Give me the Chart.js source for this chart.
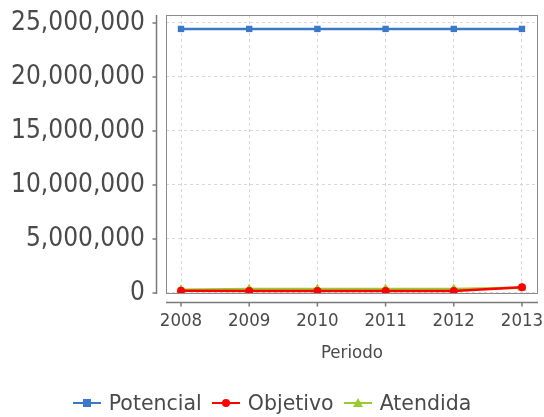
<!DOCTYPE html>
<html>
<head>
<meta charset="utf-8">
<script src="https://cdn.jsdelivr.net/npm/chart.js@4.4.0/dist/chart.umd.min.js"></script>
<style>
    html, body { margin: 0; padding: 0; background: #fff; }
    #wrap { position: relative; width: 544px; height: 417px; }
    #legend {
        position: absolute; left: 0; top: 389px; width: 544px; height: 28px;
        display: flex; justify-content: center; align-items: center;
        font-family: 'DejaVu Sans', sans-serif;
        font-size: 20.5px; color: #4a4a4a;
    }
    .item { display: flex; align-items: center; margin: 0 5px; }
    .item canvas { margin-right: 8px; }
</style>
</head>
<body>
<div id="wrap">
    <canvas id="chart" width="544" height="417"></canvas>
    <div id="legend"></div>
</div>
<script>
// Datos
const periodos = [2008, 2009, 2010, 2011, 2012, 2013];
const potencial = [24450000, 24450000, 24450000, 24450000, 24450000, 24450000];
const objetivo = [200000, 190000, 190000, 190000, 190000, 530000];
const atendida = [300000, 370000, 370000, 370000, 370000, 490000];
const yTicks = [0, 5000000, 10000000, 15000000, 20000000, 25000000];

const series = [
    { label: 'Potencial', data: potencial, color: '#3a78c9', style: 'rect', radius: 4.5 },
    { label: 'Objetivo', data: objetivo, color: '#ff0000', style: 'circle', radius: 4 },
    { label: 'Atendida', data: atendida, color: '#99cc33', style: 'triangle', radius: 5.5 }
];

const fontFamily = "'DejaVu Sans Condensed', 'DejaVu Sans', sans-serif";

// Ejes dibujados aparte del area del grafico (estilo JFreeChart)
const axisLines = {
    id: 'axisLines',
    afterDraw(chart) {
        const { ctx, chartArea } = chart;
        const { left, right, top, bottom } = chartArea;
        ctx.save();
        ctx.strokeStyle = '#8c8c8c';
        ctx.lineWidth = 1;
        ctx.strokeRect(left + 0.5, top + 0.5, right - left - 1, bottom - top - 1);

        ctx.strokeStyle = '#7a7a7a';
        ctx.lineWidth = 1.5;
        const ax = left - 9.5;
        ctx.beginPath();
        ctx.moveTo(ax, top);
        ctx.lineTo(ax, bottom);
        yTicks.forEach(v => {
            const y = chart.scales.y.getPixelForValue(v);
            ctx.moveTo(ax - 4, y);
            ctx.lineTo(ax, y);
        });
        const ay = bottom + 8.5;
        ctx.moveTo(left, ay);
        ctx.lineTo(right, ay);
        periodos.forEach(p => {
            const x = chart.scales.x.getPixelForValue(p);
            ctx.moveTo(x, ay);
            ctx.lineTo(x, ay + 4);
        });
        ctx.stroke();
        ctx.restore();
    }
};

new Chart(document.getElementById('chart'), {
    type: 'line',
    data: {
        datasets: series.map(s => ({
            label: s.label,
            data: periodos.map((p, i) => ({ x: p, y: s.data[i] })),
            borderColor: s.color,
            backgroundColor: s.color,
            borderWidth: 2.5,
            pointStyle: s.style,
            pointRadius: s.radius,
            pointHoverRadius: s.radius,
            pointBorderWidth: 0,
            tension: 0
        }))
    },
    options: {
        responsive: false,
        animation: false,
        layout: { padding: { top: 15, right: 6, left: 0, bottom: 53 } },
        plugins: {
            legend: { display: false },
            tooltip: { enabled: false }
        },
        scales: {
            x: {
                type: 'linear',
                min: 2007.78,
                max: 2013.235,
                afterBuildTicks: scale => { scale.ticks = periodos.map(v => ({ value: v })); },
                afterFit: scale => {
                    scale.height = 70;
                    scale.paddingLeft = 0;
                    scale.paddingRight = 0;
                },
                grid: { color: '#d8d8d8', drawTicks: false },
                border: { display: false, dash: [3, 3] },
                ticks: {
                    padding: 16,
                    color: '#4a4a4a',
                    font: { family: fontFamily, size: 18.5 },
                    callback: v => String(v),
                    maxRotation: 0
                },
                title: {
                    display: true,
                    text: 'Periodo',
                    color: '#4a4a4a',
                    font: { family: fontFamily, size: 18.5 },
                    padding: { top: 0, bottom: 0 }
                }
            },
            y: {
                min: -95000,
                max: 25740000,
                afterBuildTicks: scale => { scale.ticks = yTicks.map(v => ({ value: v })); },
                afterFit: scale => {
                    scale.width = 166;
                    scale.paddingTop = 0;
                    scale.paddingBottom = 0;
                },
                grid: { color: '#d8d8d8', drawTicks: false },
                border: { display: false, dash: [3, 3] },
                ticks: {
                    padding: 21,
                    color: '#4a4a4a',
                    font: { family: fontFamily, size: 26 },
                    callback: v => v.toLocaleString('en-US')
                }
            }
        }
    },
    plugins: [axisLines]
});

// Leyenda en HTML con linea + marcador
const legend = document.getElementById('legend');
series.forEach(s => {
    const item = document.createElement('div');
    item.className = 'item';
    const icon = document.createElement('canvas');
    icon.width = 28;
    icon.height = 14;
    const c = icon.getContext('2d');
    c.strokeStyle = s.color;
    c.fillStyle = s.color;
    c.lineWidth = 2;
    c.beginPath();
    c.moveTo(0, 7);
    c.lineTo(28, 7);
    c.stroke();
    c.beginPath();
    if (s.style === 'rect') {
        c.rect(10, 3, 8, 8);
    } else if (s.style === 'circle') {
        c.arc(14, 7, 4, 0, Math.PI * 2);
    } else {
        c.moveTo(14, 2);
        c.lineTo(19, 11);
        c.lineTo(9, 11);
        c.closePath();
    }
    c.fill();
    const text = document.createElement('span');
    text.textContent = s.label;
    item.appendChild(icon);
    item.appendChild(text);
    legend.appendChild(item);
});
</script>
</body>
</html>
